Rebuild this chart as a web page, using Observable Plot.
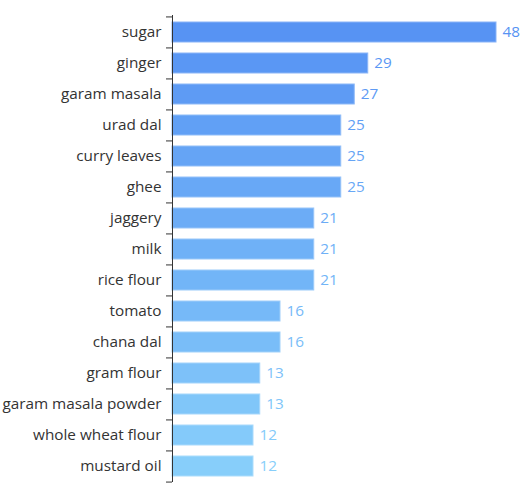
<!DOCTYPE html>
<html>
<head>
<meta charset="utf-8">
<script src="https://cdn.jsdelivr.net/npm/d3@7"></script>
<script src="https://cdn.jsdelivr.net/npm/@observablehq/plot@0.6"></script>
<style>
  html, body { margin: 0; padding: 0; background: #fff; }
  #chart { width: 529px; height: 494px; }
</style>
</head>
<body>
<div id="chart"></div>
<script>
const ingredients = ["sugar", "ginger", "garam masala", "urad dal", "curry leaves", "ghee", "jaggery", "milk", "rice flour", "tomato", "chana dal", "gram flour", "garam masala powder", "whole wheat flour", "mustard oil"];
const counts = [48, 29, 27, 25, 25, 25, 21, 21, 21, 16, 16, 13, 13, 12, 12];

const n = ingredients.length;
const colorOf = d3.interpolateRgb("#5793f3", "#87cefa");
const data = ingredients.map((name, i) => ({
  name,
  value: counts[i],
  fill: colorOf(i / (n - 1)),
  stroke: d3.interpolateRgb(colorOf(i / (n - 1)), "#ffffff")(0.3)
}));

const W = 529, H = 494;
const mTop = 15, mBottom = 12, mLeft = 172, mRight = 33;
const step = (H - mTop - mBottom) / n;
const xPerPx = 48 / (W - mLeft - mRight);
const tickLen = 6 * xPerPx;

const chart = Plot.plot({
  width: W,
  height: H,
  marginTop: mTop,
  marginBottom: mBottom,
  marginLeft: mLeft,
  marginRight: mRight,
  style: { fontFamily: "'Open Sans', 'Noto Sans', sans-serif", background: "#fff" },
  x: { domain: [0, 48], axis: null },
  y: { domain: ingredients, paddingInner: 0.36, paddingOuter: 0.18, axis: null },
  marks: [
    Plot.barX(data, { y: "name", x: "value", fill: d => d.fill, stroke: d => d.stroke, strokeWidth: 1 }),
    Plot.text(data, { y: "name", x: "value", text: d => String(d.value), textAnchor: "start", dx: 6, fill: d => d.fill, fontSize: 15.3 }),
    Plot.text(data, { y: "name", x: 0, text: "name", textAnchor: "end", dx: -11, fill: "#333", fontSize: 15.3 }),
    Plot.ruleX([0], { stroke: "#333", strokeWidth: 1 }),
    Plot.ruleY(data, { y: "name", x1: -tickLen, x2: 0, dy: -step / 2, stroke: "#333" }),
    Plot.ruleY(data.slice(-1), { y: "name", x1: -tickLen, x2: 0, dy: step / 2, stroke: "#333" })
  ]
});
document.getElementById("chart").appendChild(chart);
</script>
</body>
</html>
